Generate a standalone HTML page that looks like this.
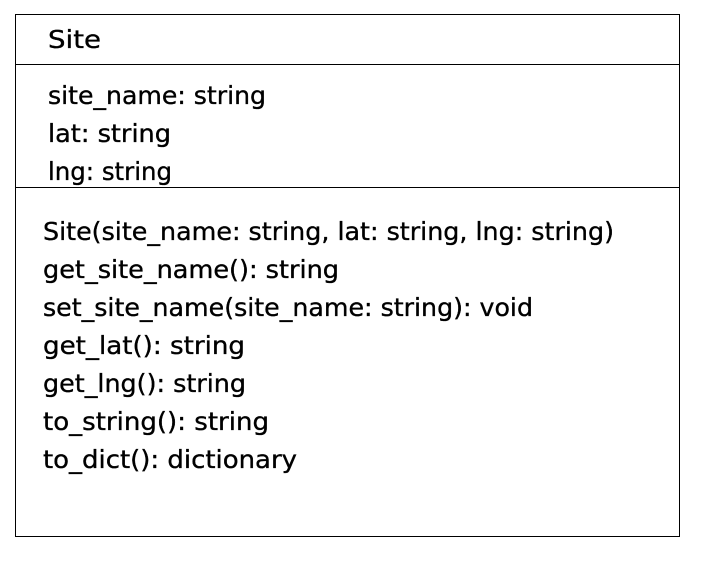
<!DOCTYPE html>
<html><head><meta charset="utf-8"><style>
html,body{margin:0;padding:0;background:#fff;width:710px;height:574px;overflow:hidden}
text{font-family:"DejaVu Sans","Liberation Sans",sans-serif;font-size:25px;fill:#000;stroke:#000;stroke-width:0.35}
</style></head><body>
<svg width="710" height="574" xmlns="http://www.w3.org/2000/svg">
<rect x="15.5" y="14.5" width="664" height="522" fill="none" stroke="#000" stroke-width="1"/>
<line x1="15" y1="64.5" x2="680" y2="64.5" stroke="#000"/>
<line x1="15" y1="187.5" x2="680" y2="187.5" stroke="#000"/>
<text x="48" y="48" textLength="53" lengthAdjust="spacingAndGlyphs">Site</text>
<text x="48" y="104" textLength="218" lengthAdjust="spacingAndGlyphs">site_name: string</text>
<text x="48" y="142" textLength="123" lengthAdjust="spacingAndGlyphs">lat: string</text>
<text x="48" y="180" textLength="124" lengthAdjust="spacingAndGlyphs">lng: string</text>
<text x="43" y="240" textLength="571" lengthAdjust="spacingAndGlyphs">Site(site_name: string, lat: string, lng: string)</text>
<text x="43" y="278" textLength="296" lengthAdjust="spacingAndGlyphs">get_site_name(): string</text>
<text x="43" y="316" textLength="490" lengthAdjust="spacingAndGlyphs">set_site_name(site_name: string): void</text>
<text x="43" y="354" textLength="202" lengthAdjust="spacingAndGlyphs">get_lat(): string</text>
<text x="43" y="392" textLength="203" lengthAdjust="spacingAndGlyphs">get_lng(): string</text>
<text x="43" y="430" textLength="226" lengthAdjust="spacingAndGlyphs">to_string(): string</text>
<text x="43" y="468" textLength="254" lengthAdjust="spacingAndGlyphs">to_dict(): dictionary</text>
</svg>
</body></html>
